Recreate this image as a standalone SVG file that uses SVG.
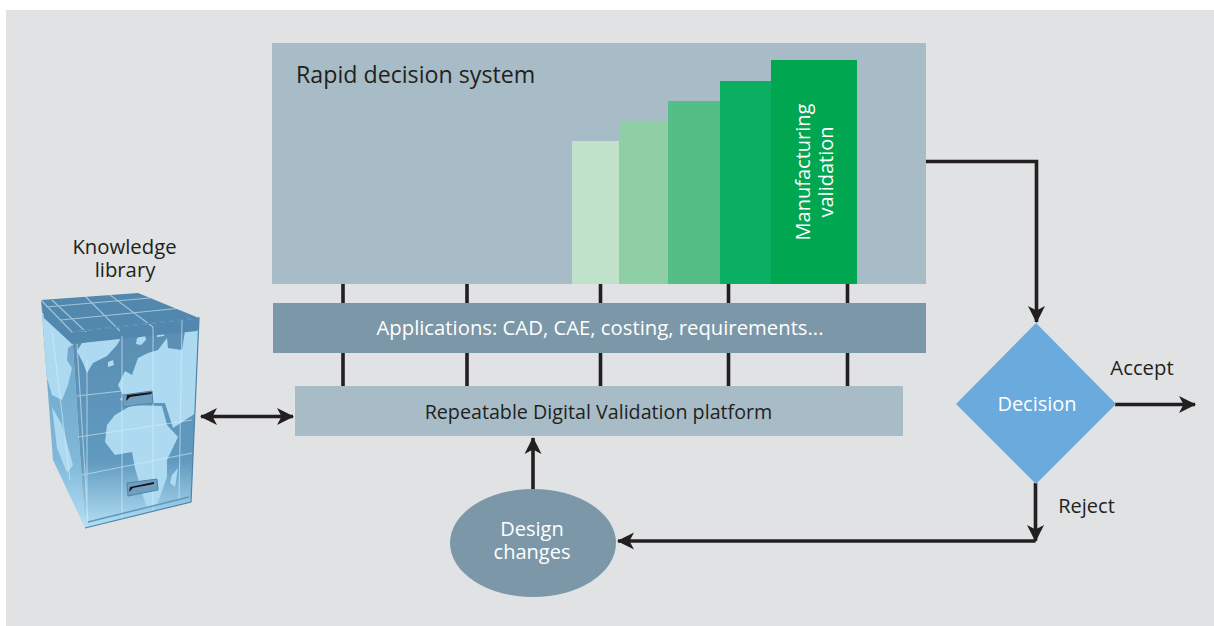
<svg xmlns="http://www.w3.org/2000/svg" width="1214" height="626" viewBox="0 0 1214 626">
<style>
text{font-family:"Open Sans","Noto Sans",sans-serif;font-size:20px;fill:#231f20;text-anchor:middle}
.w{fill:#fff}
.c{fill:none;stroke:#231f20;stroke-width:3.6}
.g{fill:none;stroke:#d6edf8;stroke-width:1.100;opacity:.6}
.land{fill:#aedaf1}
.drawer{fill:#6f9fc0;stroke:#4f85ab;stroke-width:1}
</style>
<defs>
<marker id="a" markerUnits="userSpaceOnUse" markerWidth="18" markerHeight="18" refX="16" refY="9" orient="auto-start-reverse" viewBox="0 0 18 18"><path d="M0 0.500L17 9L0 17.500L4.500 9Z" fill="#231f20"/></marker>
<linearGradient id="f" x1="0" y1="0" x2="0" y2="1"><stop offset="0" stop-color="#5a8db2"/><stop offset=".68" stop-color="#619abf"/><stop offset="1" stop-color="#b4e0f4"/></linearGradient>
<linearGradient id="l" x1="0" y1="0" x2="0" y2="1"><stop offset="0" stop-color="#6aa0c4"/><stop offset=".7" stop-color="#7fb8d9"/><stop offset="1" stop-color="#b4e0f4"/></linearGradient>
<clipPath id="body"><path d="M41 300L199 318L191 502L85 528L53 460Z"/></clipPath>
</defs>
<rect x="6" y="10" width="1208" height="616" fill="#e0e2e4"/>
<g id="connectors">
<path class="c" d="M343 284V386M467 284V386M600.500 284V386M728.500 284V386M847.500 284V386"/>
<path class="c" d="M926 161.500H1036.500V322" marker-end="url(#a)"/>
<path class="c" d="M1115 404.500H1195" marker-end="url(#a)"/>
<path class="c" d="M1035.500 483V541" marker-end="url(#a)"/>
<path class="c" d="M1035.500 541H618" marker-end="url(#a)"/>
<path class="c" d="M533 490V438" marker-end="url(#a)"/>
<path class="c" d="M201 416.500H293" marker-start="url(#a)" marker-end="url(#a)"/>
</g>
<g id="rapid-decision-system">
<rect x="272" y="43" width="654" height="241" fill="#a7bcc7"/>
<text x="296" y="83" style="text-anchor:start;font-size:23.200px">Rapid decision system</text>
</g>
<g id="validation-steps">
<rect x="572" y="141" width="47" height="143" fill="#c0e2cb"/>
<rect x="619" y="121" width="49" height="163" fill="#8fcfa5"/>
<rect x="668" y="101" width="52" height="183" fill="#55be86"/>
<rect x="720" y="81" width="51" height="203" fill="#0cae62"/>
<rect x="771" y="60" width="86" height="224" fill="#00a650"/>
<text class="w" transform="translate(809.500 172) rotate(-90)">Manufacturing</text>
<text class="w" transform="translate(832.500 172) rotate(-90)">validation</text>
</g>
<g id="applications">
<rect x="273" y="303" width="653" height="50" fill="#7b97a8"/>
<text class="w" x="600" y="335" style="font-size:20.300px">Applications: CAD, CAE, costing, requirements...</text>
</g>
<g id="rdv-platform">
<rect x="295" y="386" width="608" height="50" fill="#a7bcc7"/>
<text x="598.500" y="419" style="font-size:19.700px">Repeatable Digital Validation platform</text>
</g>
<g id="design-changes">
<ellipse cx="533" cy="543" rx="83" ry="54" fill="#7b97a8"/>
<text class="w" x="532" y="536">Design</text>
<text class="w" x="532" y="559">changes</text>
</g>
<g id="decision">
<path d="M1036 323L1116 404L1036 484L956 404Z" fill="#6aaadc"/>
<text class="w" x="1037" y="411">Decision</text>
</g>
<text x="1142" y="375" style="font-size:20.300px">Accept</text>
<text x="1086.500" y="513">Reject</text>
<g id="knowledge-library">
<text x="124.500" y="254" style="font-size:20.300px">Knowledge</text>
<text x="125" y="277" style="font-size:20.300px">library</text>
<path d="M41 300L72 332L85 528L53 460Z" fill="url(#l)"/>
<path d="M72 332L199 318L191 502L85 528Z" fill="url(#f)"/>
<g clip-path="url(#body)">
<path class="land" d="M41 312L68 331L75 343L68 348L67 360L72 368L68 385L62 400L52 395L46 375Z"/>
<path class="land" d="M82 343L98 340L122 336L117 345L107 356L93 363L87 373L83 363L77 351Z"/>
<path class="land" d="M137 338L145 335L146 340L141 345L136 344ZM157 333L165 332L164 336L157 337ZM108 362L113 360L114 365L108 367Z"/>
<path class="land" d="M199 330L185 331L182 350L168 348L167 338L158 350L148 353L138 358L132 375L125 371L118 385L123 395L120 400L130 403L152 403L165 403L173 428L196 413L198 400Z"/>
<path class="land" d="M115 415L132 405L162 406L167 425L178 437L167 460L167 477L157 505L147 508L142 493L135 468L132 452L115 455L105 442L107 425Z"/>
<path class="land" d="M178 468L175 487L170 483L172 475Z"/>
<path class="land" d="M52 407L62 425L73 465L67 473L57 448Z"/>
</g>
<path d="M41 300L138 293L199 318L197 331L72 344L44 318Z" fill="#5288ae"/>
<path class="g" d="M52 300L86 332M85 296L120 331M110 295L153 327M46 307L150 298M61 320L182 308M72 332L199 318M41 300L72 332"/>
<path class="g" d="M77 344L88 522M87 360V522M122 336V518M153 327V510M182 320L179 500M77 396L122 391M78 437L192 420M82 475L192 453M52 330L70 480"/>
<path d="M72 332L199 318L191 502L85 528" fill="none" stroke="#4a84ad" stroke-width="1.200"/>
<path d="M88 522L189 497" stroke="#5f98bf" stroke-width="1.500" fill="none"/>
<path class="drawer" d="M123 395L152 391L153 403L123 407Z"/>
<path d="M126 401L127 395L152 392L151 394L130 397Z" fill="#1a1416"/>
<path class="drawer" d="M127 483L157 479L158 490L128 496Z"/>
<path d="M129 492L130 487L154 482L154 484L133 488Z" fill="#1a1416"/>
</g>
</svg>
